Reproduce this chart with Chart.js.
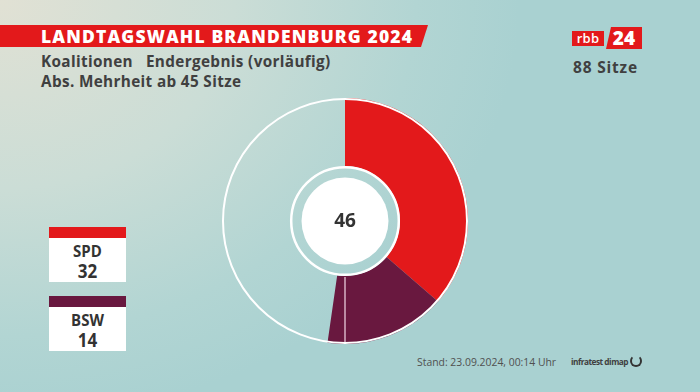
<!DOCTYPE html>
<html><head><meta charset="utf-8">
<script src="https://cdn.jsdelivr.net/npm/chart.js@4/dist/chart.umd.min.js"></script>
<style>
html,body{margin:0;padding:0;}
body{width:700px;height:392px;overflow:hidden;position:relative;
background:radial-gradient(ellipse 520px 420px at 0px 0px,#e1e1d4 0%,#cbddd6 45%,#b2d5d3 80%,#a9d1d1 100%);
font-family:"Open Sans","DejaVu Sans",sans-serif;}
#banner{position:absolute;left:0;top:25px;width:428px;height:22px;background:#e3191b;
clip-path:polygon(0 0,100% 0,calc(100% - 7px) 100%,0 100%);}
#title{position:absolute;left:41px;top:24px;color:#fff;font-weight:800;font-size:17.5px;letter-spacing:1.15px;line-height:24px;white-space:nowrap;}
.sub{position:absolute;left:41px;color:#404040;font-weight:700;font-size:15.3px;line-height:18px;white-space:nowrap;letter-spacing:0.35px;}
#logo1{position:absolute;left:572px;top:31px;width:32px;height:15px;background:#e3191b;color:#fff;font-size:13px;line-height:14px;text-align:center;font-weight:600;letter-spacing:0.3px;}
#logo2{position:absolute;left:606px;top:27px;width:36px;height:22px;background:#e3191b;color:#fff;font-size:19px;font-weight:800;line-height:22px;text-align:center;
clip-path:polygon(5px 0,100% 0,100% 100%,0 100%);}
#seats{position:absolute;left:573px;top:58px;color:#404040;font-weight:700;font-size:15.5px;line-height:18px;letter-spacing:0.8px;}
.box{position:absolute;left:49px;width:77px;height:55px;background:#fff;text-align:center;color:#333;font-weight:700;}
.box .bar{height:11px;}
.box .n{font-size:15px;line-height:20px;margin-top:2px;transform:scaleY(1.12);}
.box .v{font-size:17px;line-height:22px;transform:scaleY(1.1);}
#stand{position:absolute;left:417px;top:355px;color:#505050;font-size:10.4px;line-height:14px;}
#infra{position:absolute;left:571px;top:356px;color:#404040;font-size:8.3px;font-weight:700;line-height:12px;letter-spacing:-0.5px;}
#icon{position:absolute;left:630px;top:355px;width:8px;height:8px;border:2.5px solid #333;border-radius:50%;border-top-color:transparent;}
#wrap{position:absolute;left:222px;top:98px;width:246px;height:246px;}
</style></head>
<body>
<div id="banner"></div>
<div id="title">LANDTAGSWAHL BRANDENBURG 2024</div>
<div class="sub" style="top:52px">Koalitionen&nbsp;&nbsp;&nbsp;Endergebnis (vorläufig)</div>
<div class="sub" style="top:72px">Abs. Mehrheit ab 45 Sitze</div>
<div id="logo1">rbb</div>
<div id="logo2">24</div>
<div id="seats">88 Sitze</div>
<div id="legend"></div>
<div id="stand">Stand: 23.09.2024, 00:14 Uhr</div>
<div id="infra">infratest dimap</div>
<div id="icon"></div>
<div id="wrap"><canvas id="c" width="246" height="246"></canvas></div>
<script>
const parties = ["SPD", "BSW"];
const seats = [32, 14];
const colors = ["#e3191b", "#69183f"];
const totalSeats = 88;
const majority = 45;

const coalition = seats.reduce((a, b) => a + b, 0);
const rest = totalSeats - coalition;

// legend boxes
const legend = document.getElementById('legend');
parties.forEach((p, i) => {
  const d = document.createElement('div');
  d.className = 'box';
  d.style.top = (227 + i * 69) + 'px';
  d.innerHTML = '<div class="bar" style="background:' + colors[i] + '"></div><div class="n">' + p + '</div><div class="v">' + seats[i] + '</div>';
  legend.appendChild(d);
});

const overlay = {
  id: 'overlay',
  afterDatasetsDraw(chart) {
    const meta = chart.getDatasetMeta(0);
    const arc = meta.data[0];
    const cx = arc.x, cy = arc.y;
    const outer = arc.outerRadius, inner = arc.innerRadius;
    const ctx = chart.ctx;
    ctx.save();
    // half-line marker (at total/2)
    const ang = -Math.PI / 2 + 2 * Math.PI * (totalSeats / 2) / totalSeats;
    ctx.strokeStyle = 'rgba(255,235,245,0.55)';
    ctx.lineWidth = 2;
    ctx.beginPath();
    ctx.moveTo(cx + Math.cos(ang) * (inner + 1), cy + Math.sin(ang) * (inner + 1));
    ctx.lineTo(cx + Math.cos(ang) * (outer - 1), cy + Math.sin(ang) * (outer - 1));
    ctx.stroke();
    // outer white ring
    ctx.strokeStyle = '#ffffff';
    ctx.lineWidth = 2;
    ctx.beginPath();
    ctx.arc(cx, cy, outer - 1, 0, 2 * Math.PI);
    ctx.stroke();
    // inner white ring
    ctx.lineWidth = 2.5;
    ctx.beginPath();
    ctx.arc(cx, cy, inner - 1.2, 0, 2 * Math.PI);
    ctx.stroke();
    // center disk
    ctx.fillStyle = '#ffffff';
    ctx.beginPath();
    ctx.arc(cx, cy, 43.5, 0, 2 * Math.PI);
    ctx.fill();
    ctx.fillStyle = '#333333';
    ctx.font = 'bold 19px "Open Sans", "DejaVu Sans", sans-serif';
    ctx.textAlign = 'center';
    ctx.textBaseline = 'middle';
    ctx.fillText(String(coalition), cx, cy + 1);
    ctx.restore();
  }
};

new Chart(document.getElementById('c'), {
  type: 'doughnut',
  data: {
    labels: [...parties, 'Rest'],
    datasets: [{
      data: [...seats, rest],
      backgroundColor: [...colors, 'rgba(0,0,0,0)'],
      borderWidth: 0
    }]
  },
  options: {
    responsive: false,
    animation: false,
    cutout: 55,
    layout: { padding: 0 },
    plugins: { legend: { display: false }, tooltip: { enabled: false } }
  },
  plugins: [overlay]
});
</script>
</body></html>
